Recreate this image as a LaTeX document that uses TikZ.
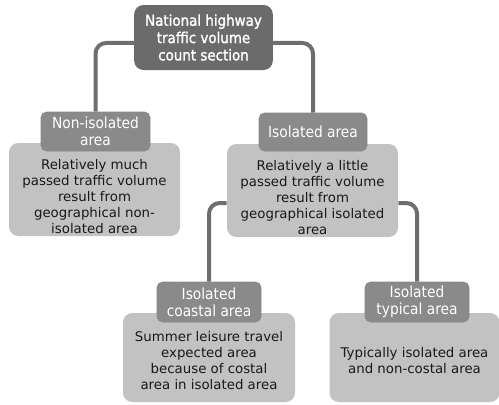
\documentclass[tikz,border=0pt]{standalone}
\usepackage{fontspec}
\setmainfont{DejaVu Sans}
\newfontfamily\hdrfont{DejaVu Sans Condensed}
\newfontfamily\titlefont[FakeBold=1.5]{DejaVu Sans Condensed}
\usetikzlibrary{backgrounds}
\definecolor{topgray}{HTML}{6B6B6B}
\definecolor{hdrgray}{HTML}{8A8A8A}
\definecolor{bodygray}{HTML}{C2C2C2}
\definecolor{linkgray}{HTML}{6E6E6E}

\begin{document}
\begin{tikzpicture}[x=0.75pt,y=-0.75pt,
        topbox/.style={fill=topgray, rounded corners=7pt, text=white, align=center, inner sep=0pt,
            font=\titlefont\fontsize{11.2}{13}\selectfont},
        hdrbox/.style={fill=hdrgray, draw=topgray!80, line width=0.4pt, rounded corners=4pt, text=white,
            align=center, inner sep=0pt, font=\hdrfont\fontsize{11.5}{13}\selectfont},
        bodybox/.style={fill=bodygray, rounded corners=7pt, inner sep=0pt},
        bodytext/.style={align=center, text=black!90, font=\fontsize{10}{12}\selectfont},
        link/.style={draw=linkgray, line width=3pt, rounded corners=8pt}]
    \useasboundingbox (0,0) rectangle (499,404);

    \node[topbox, minimum width=104pt, minimum height=48.75pt] (count) at (203.5,37.5)
        {National highway\\traffic volume\\count section};

    \node[bodybox, minimum width=128.25pt, minimum height=69.75pt,
        label={[bodytext,yshift=-5.6pt]center:{Relatively much\\passed traffic volume\\result from\\geographical non-\\isolated area}}]
        (nonbody) at (94.5,189.5) {};
    \node[hdrbox, minimum width=81.75pt, minimum height=29.25pt] (nonhdr) at (95.5,131.5) {Non-isolated\\area};

    \node[bodybox, minimum width=128.25pt, minimum height=69.75pt,
        label={[bodytext,yshift=-4.9pt]center:{Relatively a little\\passed traffic volume\\result from\\geographical isolated\\area}}]
        (isobody) at (312.5,190.5) {};
    \node[hdrbox, minimum width=81pt, minimum height=28.5pt] (isohdr) at (313,132) {Isolated area};

    \node[bodybox, minimum width=129pt, minimum height=66.75pt,
        label={[bodytext,yshift=-1.9pt]center:{Summer leisure travel\\expected area\\because of costal\\area in isolated area}}]
        (coastbody) at (209,357.5) {};
    \node[hdrbox, minimum width=78pt, minimum height=30pt] (coasthdr) at (209,302) {Isolated\\coastal area};

    \node[bodybox, minimum width=127.5pt, minimum height=66.75pt,
        label={[bodytext,yshift=-1.9pt]center:{Typically isolated area\\and non-costal area}}]
        (typbody) at (414.5,357.5) {};
    \node[hdrbox, minimum width=78pt, minimum height=30pt] (typhdr) at (417,302) {Isolated\\typical area};

    \begin{scope}[on background layer]
        \draw[link] ([yshift=-4.1pt]count.west) -| (nonhdr.north);
        \draw[link] ([yshift=-4.1pt]count.east) -| (isohdr.north);
        \draw[link] ([yshift=-9.4pt]isobody.west) -| (coasthdr.north);
        \draw[link] ([yshift=-9.4pt]isobody.east) -| (typhdr.north);
    \end{scope}
\end{tikzpicture}
\end{document}
